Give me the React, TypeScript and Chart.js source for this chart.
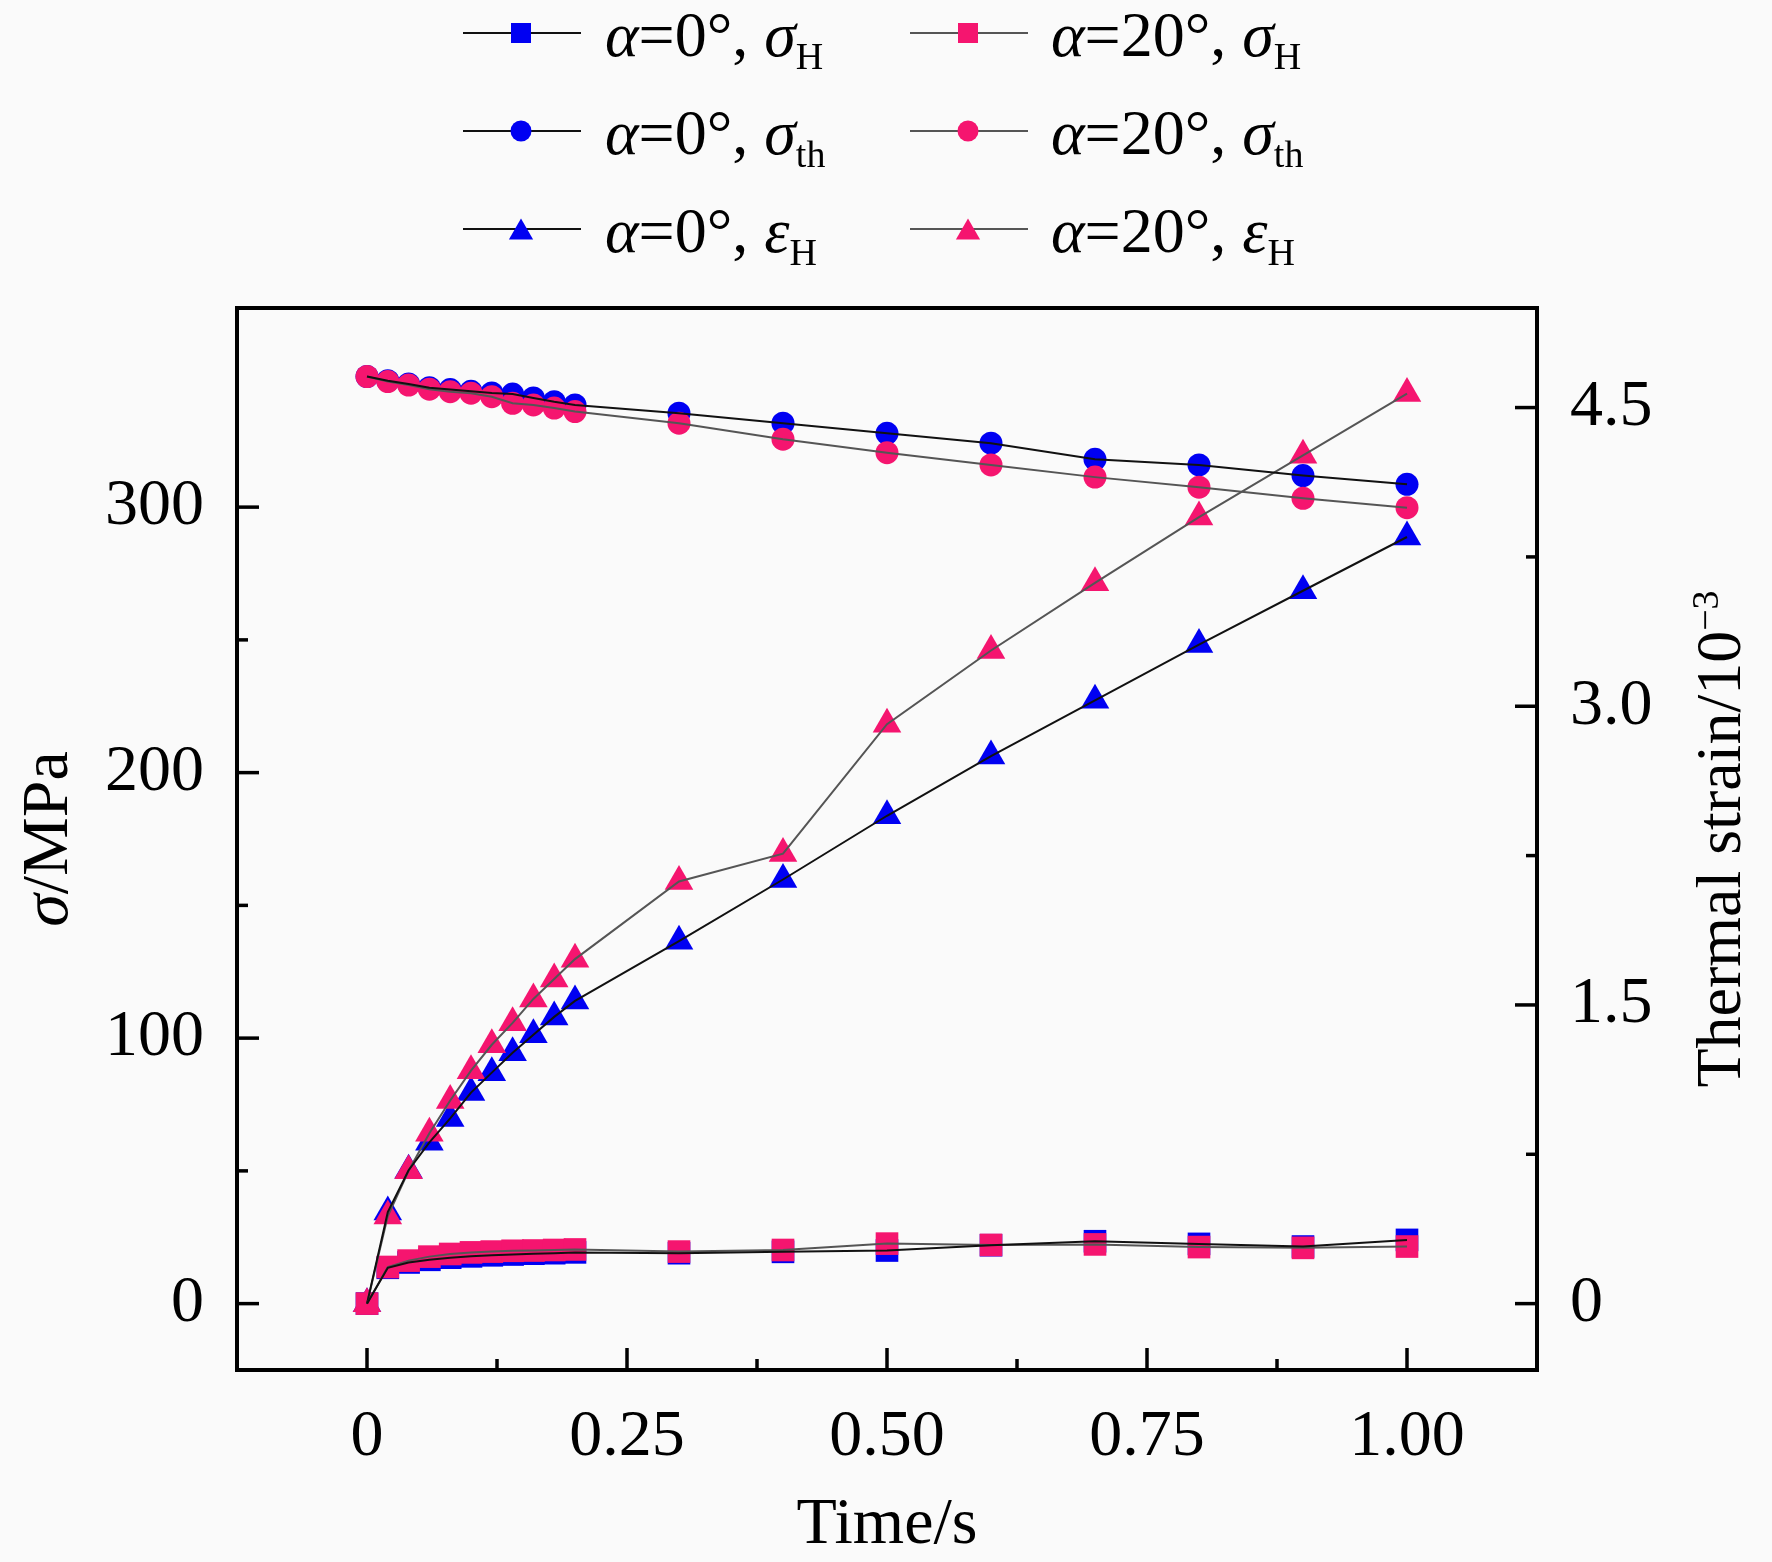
import { useEffect, useRef } from 'react';
import Chart from 'chart.js/auto';

// time points (s)
const time = [0, 0.02, 0.04, 0.06, 0.08, 0.1, 0.12, 0.14, 0.16, 0.18, 0.2, 0.3, 0.4, 0.5, 0.6, 0.7, 0.8, 0.9, 1.0];

// hoop stress sigma_H (MPa)
const sigmaH0 = [0, 13.5, 15.5, 16.5, 17.3, 17.8, 18.2, 18.5, 18.8, 19.0, 19.3, 19.0, 19.5, 20.0, 22.0, 23.5, 22.5, 21.5, 24.0];
const sigmaH20 = [0, 13.8, 16.2, 17.7, 18.7, 19.3, 19.6, 19.9, 20.0, 20.2, 20.4, 19.6, 20.2, 22.6, 22.1, 22.3, 21.3, 21.0, 21.5];

// thermal stress sigma_th (MPa)
const sigmaTh0 = [349.2, 347.6, 346.4, 345.0, 344.3, 343.6, 343.0, 342.6, 341.1, 339.7, 338.5, 335.4, 331.6, 327.8, 324.1, 318.0, 315.9, 311.9, 308.6];
const sigmaTh20 = [349.2, 347.3, 346.0, 344.4, 343.5, 342.9, 341.6, 339.1, 338.5, 337.3, 336.0, 331.6, 325.6, 320.5, 315.9, 311.3, 307.5, 303.3, 299.8];

// thermal strain eps_H (10^-3)
const epsH0 = [0, 0.46, 0.67, 0.81, 0.93, 1.06, 1.16, 1.26, 1.35, 1.44, 1.52, 1.82, 2.13, 2.45, 2.75, 3.03, 3.31, 3.58, 3.85];
const epsH20 = [0, 0.44, 0.667, 0.856, 1.02, 1.17, 1.3, 1.41, 1.53, 1.63, 1.73, 2.12, 2.26, 2.91, 3.28, 3.62, 3.95, 4.26, 4.57];

// axes
const xTicks = [0, 0.25, 0.5, 0.75, 1.0];
const xTickLabels = ['0', '0.25', '0.50', '0.75', '1.00'];
const xMinor = [0.125, 0.375, 0.625, 0.875];
const stressTicks = [0, 100, 200, 300];
const stressTickLabels = ['0', '100', '200', '300'];
const stressMinor = [50, 150, 250];
const strainTicks = [0, 1.5, 3.0, 4.5];
const strainTickLabels = ['0', '1.5', '3.0', '4.5'];
const strainMinor = [0.75, 2.25, 3.75];

const BLUE = '#0000f2';
const PINK = '#f5156f';
const LINE0 = '#111111';
const LINE20 = '#555555';
const FONT = '"Liberation Serif", "Times New Roman", serif';

type Shape = 'rect' | 'circle' | 'triangle';

const series = [
  { angle: '0', sym: 'σ', sub: 'H', data: sigmaH0, axis: 'y', color: BLUE, line: LINE0, shape: 'rect' as Shape, r: 16, col: 0, row: 0 },
  { angle: '20', sym: 'σ', sub: 'H', data: sigmaH20, axis: 'y', color: PINK, line: LINE20, shape: 'rect' as Shape, r: 16, col: 1, row: 0 },
  { angle: '0', sym: 'σ', sub: 'th', data: sigmaTh0, axis: 'y', color: BLUE, line: LINE0, shape: 'circle' as Shape, r: 11.5, col: 0, row: 1 },
  { angle: '20', sym: 'σ', sub: 'th', data: sigmaTh20, axis: 'y', color: PINK, line: LINE20, shape: 'circle' as Shape, r: 11.5, col: 1, row: 1 },
  { angle: '0', sym: 'ε', sub: 'H', data: epsH0, axis: 'y2', color: BLUE, line: LINE0, shape: 'triangle' as Shape, r: 16.5, col: 0, row: 2 },
  { angle: '20', sym: 'ε', sub: 'H', data: epsH20, axis: 'y2', color: PINK, line: LINE20, shape: 'triangle' as Shape, r: 16.5, col: 1, row: 2 },
];

function drawShape(ctx: CanvasRenderingContext2D, shape: Shape, x: number, y: number, r: number) {
  ctx.beginPath();
  if (shape === 'rect') {
    ctx.rect(x - r, y - r, 2 * r, 2 * r);
  } else if (shape === 'circle') {
    ctx.arc(x, y, r, 0, Math.PI * 2);
  } else {
    const h = r * 1.5;
    const top = y - h / 2;
    ctx.moveTo(x, top);
    ctx.lineTo(x + r * 0.866, top + h);
    ctx.lineTo(x - r * 0.866, top + h);
    ctx.closePath();
  }
  ctx.fill();
}

// draws mixed-font text pieces starting at x, returns end x
function drawPieces(ctx: CanvasRenderingContext2D, pieces: [string, string, number][], x: number, y: number) {
  let cx = x;
  for (const [text, font, dy] of pieces) {
    ctx.font = font;
    ctx.fillText(text, cx, y + dy);
    cx += ctx.measureText(text).width;
  }
  return cx;
}

function piecesWidth(ctx: CanvasRenderingContext2D, pieces: [string, string, number][]) {
  let w = 0;
  for (const [text, font] of pieces) {
    ctx.font = font;
    w += ctx.measureText(text).width;
  }
  return w;
}

const decorPlugin = {
  id: 'decor',
  beforeDraw(chart: any) {
    const ctx = chart.ctx as CanvasRenderingContext2D;
    ctx.save();
    ctx.fillStyle = '#fafafa';
    ctx.fillRect(0, 0, chart.width, chart.height);
    ctx.restore();
  },
  afterDraw(chart: any) {
    const ctx = chart.ctx as CanvasRenderingContext2D;
    const { left, right, top, bottom } = chart.chartArea;
    const xs = chart.scales.x;
    const ys = chart.scales.y;
    const y2 = chart.scales.y2;
    ctx.save();
    ctx.strokeStyle = '#000';
    ctx.fillStyle = '#000';

    // inward ticks
    ctx.lineWidth = 3.5;
    const tick = (x1: number, y1: number, x2: number, y2p: number) => {
      ctx.beginPath();
      ctx.moveTo(x1, y1);
      ctx.lineTo(x2, y2p);
      ctx.stroke();
    };
    xTicks.forEach((v) => { const p = xs.getPixelForValue(v); tick(p, bottom, p, bottom - 22); });
    xMinor.forEach((v) => { const p = xs.getPixelForValue(v); tick(p, bottom, p, bottom - 11); });
    stressTicks.forEach((v) => { const p = ys.getPixelForValue(v); tick(left, p, left + 22, p); });
    stressMinor.forEach((v) => { const p = ys.getPixelForValue(v); tick(left, p, left + 11, p); });
    strainTicks.forEach((v) => { const p = y2.getPixelForValue(v); tick(right, p, right - 22, p); });
    strainMinor.forEach((v) => { const p = y2.getPixelForValue(v); tick(right, p, right - 11, p); });

    // frame
    ctx.lineWidth = 4;
    ctx.strokeRect(left, top, right - left, bottom - top);

    // axis titles
    const big = `66px ${FONT}`;
    const bigIt = `italic 66px ${FONT}`;
    const small = `38px ${FONT}`;
    ctx.textBaseline = 'alphabetic';
    ctx.textAlign = 'left';

    const timeP: [string, string, number][] = [['Time/s', big, 0]];
    drawPieces(ctx, timeP, (left + right) / 2 - piecesWidth(ctx, timeP) / 2, 1543);

    const yP: [string, string, number][] = [['σ', bigIt, 0], ['/MPa', big, 0]];
    ctx.save();
    ctx.translate(67, (top + bottom) / 2);
    ctx.rotate(-Math.PI / 2);
    drawPieces(ctx, yP, -piecesWidth(ctx, yP) / 2, 0);
    ctx.restore();

    const y2P: [string, string, number][] = [['Thermal strain/10', `64px ${FONT}`, 0], ['−3', small, -22]];
    ctx.save();
    ctx.translate(1740, (top + bottom) / 2);
    ctx.rotate(-Math.PI / 2);
    drawPieces(ctx, y2P, -piecesWidth(ctx, y2P) / 2, 0);
    ctx.restore();

    // legend
    const colLine = [463, 910];
    const colText = [605, 1051];
    const rowY = [33, 131, 229];
    const legR: Record<Shape, number> = { rect: 10, circle: 10.5, triangle: 14 };
    const lf = `64px ${FONT}`;
    const lfIt = `italic 64px ${FONT}`;
    series.forEach((s) => {
      const cy = rowY[s.row];
      const x0 = colLine[s.col];
      ctx.strokeStyle = s.line;
      ctx.lineWidth = 2;
      ctx.beginPath();
      ctx.moveTo(x0, cy);
      ctx.lineTo(x0 + 118, cy);
      ctx.stroke();
      ctx.fillStyle = s.color;
      drawShape(ctx, s.shape, x0 + 58, cy, legR[s.shape]);
      ctx.fillStyle = '#000';
      drawPieces(ctx, [
        ['α', lfIt, 0],
        ['=' + s.angle + '°, ', lf, 0],
        [s.sym, lfIt, 0],
        [s.sub, small, 13],
      ], colText[s.col], cy + 23);
    });
    ctx.restore();
  },
};

export default function App() {
  const canvasRef = useRef<HTMLCanvasElement>(null);

  useEffect(() => {
    document.body.style.margin = '0';
    const canvas = canvasRef.current;
    if (!canvas) return;
    const context = canvas.getContext('2d');
    if (!context) return;

    const datasets: any[] = [];
    series.forEach((s) => {
      const pts = time.map((t, i) => ({ x: t, y: s.data[i] }));
      datasets.push({
        data: pts,
        yAxisID: s.axis,
        showLine: false,
        pointStyle: s.shape,
        pointRadius: s.r,
        pointBackgroundColor: s.color,
        pointBorderColor: s.color,
        pointBorderWidth: 0,
        order: s.color === PINK ? 1 : 2,
      });
      datasets.push({
        data: pts,
        yAxisID: s.axis,
        borderColor: s.line,
        borderWidth: 2,
        pointRadius: 0,
        tension: 0,
        order: 0,
      });
    });

    const tickFont = { family: FONT, size: 66 };

    const chart = new Chart(context, {
      type: 'line',
      data: { datasets },
      options: {
        animation: false,
        responsive: true,
        maintainAspectRatio: false,
        events: [],
        layout: { padding: { top: 308, left: 0, right: 0, bottom: 0 } },
        plugins: {
          legend: { display: false },
          tooltip: { enabled: false },
        },
        scales: {
          x: {
            type: 'linear',
            min: -0.125,
            max: 1.125,
            grid: { display: false },
            border: { display: false },
            afterBuildTicks: (s: any) => { s.ticks = xTicks.map((v) => ({ value: v })); },
            afterFit: (s: any) => { s.height = 192; },
            ticks: {
              font: tickFont,
              color: '#000',
              padding: 20,
              maxRotation: 0,
              autoSkip: false,
              callback: (v: any) => xTickLabels[xTicks.indexOf(Number(v))],
            },
          },
          y: {
            type: 'linear',
            position: 'left',
            min: -25,
            max: 375,
            grid: { display: false },
            border: { display: false },
            afterBuildTicks: (s: any) => { s.ticks = stressTicks.map((v) => ({ value: v })); },
            afterFit: (s: any) => { s.width = 237; },
            ticks: {
              font: tickFont,
              color: '#000',
              padding: 25,
              autoSkip: false,
              callback: (v: any) => stressTickLabels[stressTicks.indexOf(Number(v))],
            },
          },
          y2: {
            type: 'linear',
            position: 'right',
            min: -1 / 3,
            max: 5,
            grid: { display: false },
            border: { display: false },
            afterBuildTicks: (s: any) => { s.ticks = strainTicks.map((v) => ({ value: v })); },
            afterFit: (s: any) => { s.width = 235; },
            ticks: {
              font: tickFont,
              color: '#000',
              padding: 25,
              autoSkip: false,
              callback: (v: any) => strainTickLabels[strainTicks.indexOf(Number(v))],
            },
          },
        },
      },
      plugins: [decorPlugin],
    });

    return () => {
      chart.destroy();
    };
  }, []);

  return (
    <div style={{ width: 1772, height: 1562, position: 'relative' }}>
      <canvas ref={canvasRef} />
    </div>
  );
}
